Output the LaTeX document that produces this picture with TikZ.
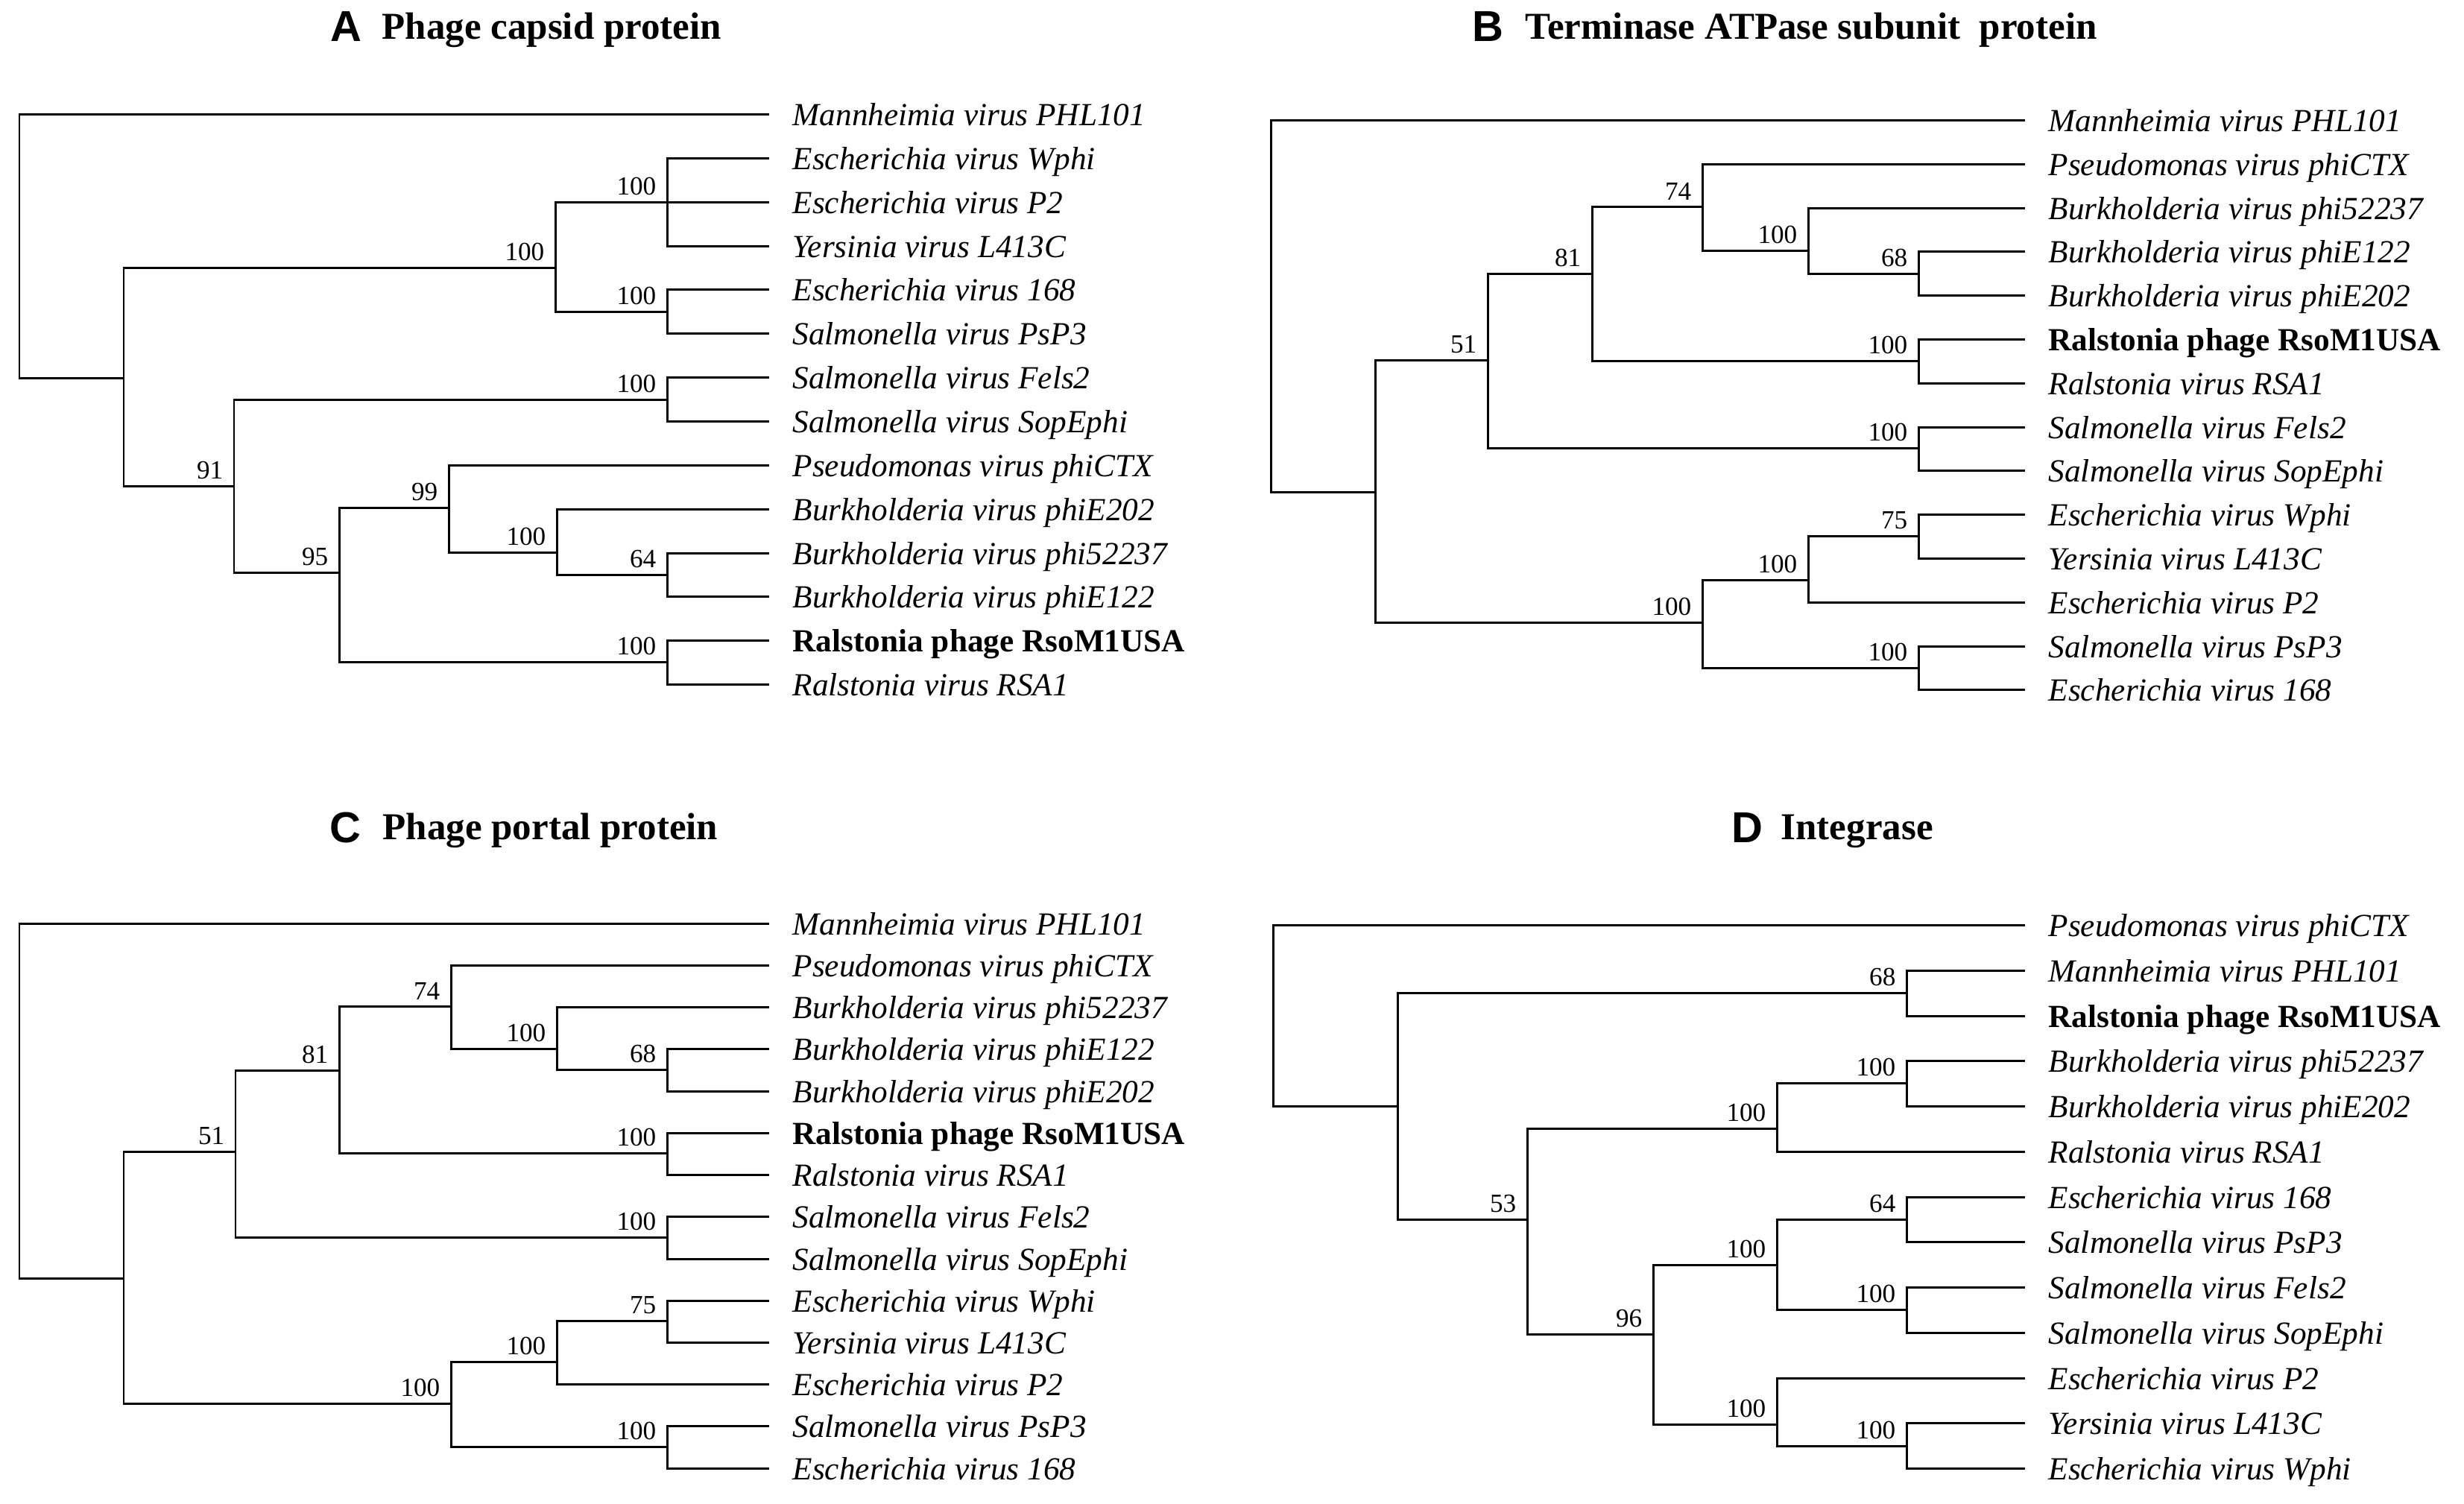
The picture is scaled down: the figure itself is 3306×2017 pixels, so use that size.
\documentclass[tikz,border=0pt]{standalone}
\usepackage{fontspec}
\setmainfont{Liberation Serif}
\newfontfamily\panelfont{Liberation Sans}
\usetikzlibrary{calc}
\begin{document}
\begin{tikzpicture}[x=0.01cm,y=-0.01cm,
 br/.style={line width=0.85pt},
 leaf/.style={anchor=base west, inner sep=0pt, font=\fontsize{12.3}{14}\selectfont\itshape},
 leafb/.style={anchor=base west, inner sep=0pt, font=\fontsize{12.3}{14}\selectfont\bfseries},
 boot/.style={anchor=south east, inner sep=0pt, font=\fontsize{10}{12}\selectfont},
 plet/.style={anchor=base west, inner sep=0pt, font=\panelfont\bfseries\fontsize{16.5}{18}\selectfont},
 ptitle/.style={anchor=base west, inner sep=0pt, font=\fontsize{14.5}{16}\selectfont\bfseries}]
\useasboundingbox (0,0) rectangle (3306,2017);
\fill[white] (0,0) rectangle (3306,2017);

% ================= Panel A =================
\node[plet] (A-let) at (443,55) {A};
\node[ptitle] (A-tit) at (512,52) {Phage capsid protein};
\coordinate (A-L0) at (1032,153);  \node[leaf] (A-T0) at (1063,168) {Mannheimia virus PHL101};
\coordinate (A-L1) at (1032,212);  \node[leaf] (A-T1) at (1063,227) {Escherichia virus Wphi};
\coordinate (A-L2) at (1032,271);  \node[leaf] (A-T2) at (1063,286) {Escherichia virus P2};
\coordinate (A-L3) at (1032,330);  \node[leaf] (A-T3) at (1063,345) {Yersinia virus L413C};
\coordinate (A-L4) at (1032,388);  \node[leaf] (A-T4) at (1063,403) {Escherichia virus 168};
\coordinate (A-L5) at (1032,447);  \node[leaf] (A-T5) at (1063,462) {Salmonella virus PsP3};
\coordinate (A-L6) at (1032,506);  \node[leaf] (A-T6) at (1063,521) {Salmonella virus Fels2};
\coordinate (A-L7) at (1032,565);  \node[leaf] (A-T7) at (1063,580) {Salmonella virus SopEphi};
\coordinate (A-L8) at (1032,624);  \node[leaf] (A-T8) at (1063,639) {Pseudomonas virus phiCTX};
\coordinate (A-L9) at (1032,683);  \node[leaf] (A-T9) at (1063,698) {Burkholderia virus phiE202};
\coordinate (A-L10) at (1032,742); \node[leaf] (A-T10) at (1063,757) {Burkholderia virus phi52237};
\coordinate (A-L11) at (1032,800); \node[leaf] (A-T11) at (1063,815) {Burkholderia virus phiE122};
\coordinate (A-L12) at (1032,859); \node[leafb] (A-T12) at (1063,874) {Ralstonia phage RsoM1USA};
\coordinate (A-L13) at (1032,918); \node[leaf] (A-T13) at (1063,933) {Ralstonia virus RSA1};

\coordinate (A-root) at (26,330);
\coordinate (A-a1) at (166,507);
\coordinate (A-a2) at (745,359);
\coordinate (A-a3) at (895,271);
\coordinate (A-a4) at (895,418);
\coordinate (A-a5) at (314,652);
\coordinate (A-a6) at (895,536);
\coordinate (A-a7) at (455,768);
\coordinate (A-a8) at (602,681);
\coordinate (A-a9) at (747,741);
\coordinate (A-a10) at (895,771);
\coordinate (A-a11) at (895,888);

\draw[br] (A-root) |- (A-L0);  \draw[br] (A-root) |- (A-a1);
\draw[br] (A-a1) |- (A-a2);    \draw[br] (A-a1) |- (A-a5);
\draw[br] (A-a2) |- (A-a3);    \draw[br] (A-a2) |- (A-a4);
\draw[br] (A-a3) |- (A-L1);    \draw[br] (A-a3) |- (A-L2);  \draw[br] (A-a3) |- (A-L3);
\draw[br] (A-a4) |- (A-L4);    \draw[br] (A-a4) |- (A-L5);
\draw[br] (A-a5) |- (A-a6);    \draw[br] (A-a5) |- (A-a7);
\draw[br] (A-a6) |- (A-L6);    \draw[br] (A-a6) |- (A-L7);
\draw[br] (A-a7) |- (A-a8);    \draw[br] (A-a7) |- (A-a11);
\draw[br] (A-a8) |- (A-L8);    \draw[br] (A-a8) |- (A-a9);
\draw[br] (A-a9) |- (A-L9);    \draw[br] (A-a9) |- (A-a10);
\draw[br] (A-a10) |- (A-L10);  \draw[br] (A-a10) |- (A-L11);
\draw[br] (A-a11) |- (A-L12);  \draw[br] (A-a11) |- (A-L13);

\node[boot] (A-b2) at ($(A-a2)+(-14,-8)$) {100};
\node[boot] (A-b3) at ($(A-a3)+(-14,-8)$) {100};
\node[boot] (A-b4) at ($(A-a4)+(-14,-8)$) {100};
\node[boot] (A-b5) at ($(A-a5)+(-14,-8)$) {91};
\node[boot] (A-b6) at ($(A-a6)+(-14,-8)$) {100};
\node[boot] (A-b7) at ($(A-a7)+(-14,-8)$) {95};
\node[boot] (A-b8) at ($(A-a8)+(-14,-8)$) {99};
\node[boot] (A-b9) at ($(A-a9)+(-14,-8)$) {100};
\node[boot] (A-b10) at ($(A-a10)+(-14,-8)$) {64};
\node[boot] (A-b11) at ($(A-a11)+(-14,-8)$) {100};

% ================= Panel B =================
\node[plet] (B-let) at (1975,55) {B};
\node[ptitle] (B-tit) at (2046,52) {Terminase ATPase subunit\ \ protein};
\coordinate (B-L0) at (2717,161);  \node[leaf] (B-T0) at (2748,176) {Mannheimia virus PHL101};
\coordinate (B-L1) at (2717,220);  \node[leaf] (B-T1) at (2748,235) {Pseudomonas virus phiCTX};
\coordinate (B-L2) at (2717,279);  \node[leaf] (B-T2) at (2748,294) {Burkholderia virus phi52237};
\coordinate (B-L3) at (2717,337);  \node[leaf] (B-T3) at (2748,352) {Burkholderia virus phiE122};
\coordinate (B-L4) at (2717,396);  \node[leaf] (B-T4) at (2748,411) {Burkholderia virus phiE202};
\coordinate (B-L5) at (2717,455);  \node[leafb] (B-T5) at (2748,470) {Ralstonia phage RsoM1USA};
\coordinate (B-L6) at (2717,514);  \node[leaf] (B-T6) at (2748,529) {Ralstonia virus RSA1};
\coordinate (B-L7) at (2717,573);  \node[leaf] (B-T7) at (2748,588) {Salmonella virus Fels2};
\coordinate (B-L8) at (2717,631);  \node[leaf] (B-T8) at (2748,646) {Salmonella virus SopEphi};
\coordinate (B-L9) at (2717,690);  \node[leaf] (B-T9) at (2748,705) {Escherichia virus Wphi};
\coordinate (B-L10) at (2717,749); \node[leaf] (B-T10) at (2748,764) {Yersinia virus L413C};
\coordinate (B-L11) at (2717,808); \node[leaf] (B-T11) at (2748,823) {Escherichia virus P2};
\coordinate (B-L12) at (2717,867); \node[leaf] (B-T12) at (2748,882) {Salmonella virus PsP3};
\coordinate (B-L13) at (2717,925); \node[leaf] (B-T13) at (2748,940) {Escherichia virus 168};

\coordinate (B-root) at (1705,400);
\coordinate (B-b1) at (1845,660);
\coordinate (B-b2) at (1996,483);
\coordinate (B-b3) at (2136,367);
\coordinate (B-b4) at (2284,277);
\coordinate (B-b5) at (2426,336);
\coordinate (B-b6) at (2574,367);
\coordinate (B-bR) at (2574,484);
\coordinate (B-bF) at (2574,601);
\coordinate (B-b7) at (2284,835);
\coordinate (B-b8) at (2426,778);
\coordinate (B-b9) at (2574,719);
\coordinate (B-b10) at (2574,896);

\draw[br] (B-root) |- (B-L0);  \draw[br] (B-root) |- (B-b1);
\draw[br] (B-b1) |- (B-b2);    \draw[br] (B-b1) |- (B-b7);
\draw[br] (B-b2) |- (B-b3);    \draw[br] (B-b2) |- (B-bF);
\draw[br] (B-b3) |- (B-b4);    \draw[br] (B-b3) |- (B-bR);
\draw[br] (B-b4) |- (B-L1);    \draw[br] (B-b4) |- (B-b5);
\draw[br] (B-b5) |- (B-L2);    \draw[br] (B-b5) |- (B-b6);
\draw[br] (B-b6) |- (B-L3);    \draw[br] (B-b6) |- (B-L4);
\draw[br] (B-bR) |- (B-L5);    \draw[br] (B-bR) |- (B-L6);
\draw[br] (B-bF) |- (B-L7);    \draw[br] (B-bF) |- (B-L8);
\draw[br] (B-b7) |- (B-b8);    \draw[br] (B-b7) |- (B-b10);
\draw[br] (B-b8) |- (B-b9);    \draw[br] (B-b8) |- (B-L11);
\draw[br] (B-b9) |- (B-L9);    \draw[br] (B-b9) |- (B-L10);
\draw[br] (B-b10) |- (B-L12);  \draw[br] (B-b10) |- (B-L13);

\node[boot] (B-x2) at ($(B-b2)+(-14,-8)$) {51};
\node[boot] (B-x3) at ($(B-b3)+(-14,-8)$) {81};
\node[boot] (B-x4) at ($(B-b4)+(-14,-8)$) {74};
\node[boot] (B-x5) at ($(B-b5)+(-14,-8)$) {100};
\node[boot] (B-x6) at ($(B-b6)+(-14,-8)$) {68};
\node[boot] (B-xR) at ($(B-bR)+(-14,-8)$) {100};
\node[boot] (B-xF) at ($(B-bF)+(-14,-8)$) {100};
\node[boot] (B-x7) at ($(B-b7)+(-14,-8)$) {100};
\node[boot] (B-x8) at ($(B-b8)+(-14,-8)$) {100};
\node[boot] (B-x9) at ($(B-b9)+(-14,-8)$) {75};
\node[boot] (B-x10) at ($(B-b10)+(-14,-8)$) {100};

% ================= Panel C =================
\node[plet] (C-let) at (442,1130) {C};
\node[ptitle] (C-tit) at (513,1126) {Phage portal protein};
\coordinate (C-L0) at (1032,1239);  \node[leaf] (C-T0) at (1063,1254) {Mannheimia virus PHL101};
\coordinate (C-L1) at (1032,1295);  \node[leaf] (C-T1) at (1063,1310) {Pseudomonas virus phiCTX};
\coordinate (C-L2) at (1032,1351);  \node[leaf] (C-T2) at (1063,1366) {Burkholderia virus phi52237};
\coordinate (C-L3) at (1032,1407);  \node[leaf] (C-T3) at (1063,1422) {Burkholderia virus phiE122};
\coordinate (C-L4) at (1032,1464);  \node[leaf] (C-T4) at (1063,1479) {Burkholderia virus phiE202};
\coordinate (C-L5) at (1032,1520);  \node[leafb] (C-T5) at (1063,1535) {Ralstonia phage RsoM1USA};
\coordinate (C-L6) at (1032,1576);  \node[leaf] (C-T6) at (1063,1591) {Ralstonia virus RSA1};
\coordinate (C-L7) at (1032,1632);  \node[leaf] (C-T7) at (1063,1647) {Salmonella virus Fels2};
\coordinate (C-L8) at (1032,1689);  \node[leaf] (C-T8) at (1063,1704) {Salmonella virus SopEphi};
\coordinate (C-L9) at (1032,1745);  \node[leaf] (C-T9) at (1063,1760) {Escherichia virus Wphi};
\coordinate (C-L10) at (1032,1801); \node[leaf] (C-T10) at (1063,1816) {Yersinia virus L413C};
\coordinate (C-L11) at (1032,1857); \node[leaf] (C-T11) at (1063,1872) {Escherichia virus P2};
\coordinate (C-L12) at (1032,1913); \node[leaf] (C-T12) at (1063,1928) {Salmonella virus PsP3};
\coordinate (C-L13) at (1032,1970); \node[leaf] (C-T13) at (1063,1985) {Escherichia virus 168};

\coordinate (C-root) at (26,1450);
\coordinate (C-c1) at (166,1715);
\coordinate (C-c2) at (316,1545);
\coordinate (C-c3) at (455,1436);
\coordinate (C-c4) at (605,1350);
\coordinate (C-c5) at (747,1407);
\coordinate (C-c6) at (895,1435);
\coordinate (C-cR) at (895,1547);
\coordinate (C-cF) at (895,1660);
\coordinate (C-c7) at (605,1883);
\coordinate (C-c8) at (747,1827);
\coordinate (C-c9) at (895,1772);
\coordinate (C-c10) at (895,1941);

\draw[br] (C-root) |- (C-L0);  \draw[br] (C-root) |- (C-c1);
\draw[br] (C-c1) |- (C-c2);    \draw[br] (C-c1) |- (C-c7);
\draw[br] (C-c2) |- (C-c3);    \draw[br] (C-c2) |- (C-cF);
\draw[br] (C-c3) |- (C-c4);    \draw[br] (C-c3) |- (C-cR);
\draw[br] (C-c4) |- (C-L1);    \draw[br] (C-c4) |- (C-c5);
\draw[br] (C-c5) |- (C-L2);    \draw[br] (C-c5) |- (C-c6);
\draw[br] (C-c6) |- (C-L3);    \draw[br] (C-c6) |- (C-L4);
\draw[br] (C-cR) |- (C-L5);    \draw[br] (C-cR) |- (C-L6);
\draw[br] (C-cF) |- (C-L7);    \draw[br] (C-cF) |- (C-L8);
\draw[br] (C-c7) |- (C-c8);    \draw[br] (C-c7) |- (C-c10);
\draw[br] (C-c8) |- (C-c9);    \draw[br] (C-c8) |- (C-L11);
\draw[br] (C-c9) |- (C-L9);    \draw[br] (C-c9) |- (C-L10);
\draw[br] (C-c10) |- (C-L12);  \draw[br] (C-c10) |- (C-L13);

\node[boot] (C-x2) at ($(C-c2)+(-14,-8)$) {51};
\node[boot] (C-x3) at ($(C-c3)+(-14,-8)$) {81};
\node[boot] (C-x4) at ($(C-c4)+(-14,-8)$) {74};
\node[boot] (C-x5) at ($(C-c5)+(-14,-8)$) {100};
\node[boot] (C-x6) at ($(C-c6)+(-14,-8)$) {68};
\node[boot] (C-xR) at ($(C-cR)+(-14,-8)$) {100};
\node[boot] (C-xF) at ($(C-cF)+(-14,-8)$) {100};
\node[boot] (C-x7) at ($(C-c7)+(-14,-8)$) {100};
\node[boot] (C-x8) at ($(C-c8)+(-14,-8)$) {100};
\node[boot] (C-x9) at ($(C-c9)+(-14,-8)$) {75};
\node[boot] (C-x10) at ($(C-c10)+(-14,-8)$) {100};

% ================= Panel D =================
\node[plet] (D-let) at (2323,1130) {D};
\node[ptitle] (D-tit) at (2389,1126) {Integrase};
\coordinate (D-L0) at (2717,1241);  \node[leaf] (D-T0) at (2748,1256) {Pseudomonas virus phiCTX};
\coordinate (D-L1) at (2717,1302);  \node[leaf] (D-T1) at (2748,1317) {Mannheimia virus PHL101};
\coordinate (D-L2) at (2717,1363);  \node[leafb] (D-T2) at (2748,1378) {Ralstonia phage RsoM1USA};
\coordinate (D-L3) at (2717,1423);  \node[leaf] (D-T3) at (2748,1438) {Burkholderia virus phi52237};
\coordinate (D-L4) at (2717,1484);  \node[leaf] (D-T4) at (2748,1499) {Burkholderia virus phiE202};
\coordinate (D-L5) at (2717,1545);  \node[leaf] (D-T5) at (2748,1560) {Ralstonia virus RSA1};
\coordinate (D-L6) at (2717,1606);  \node[leaf] (D-T6) at (2748,1621) {Escherichia virus 168};
\coordinate (D-L7) at (2717,1666);  \node[leaf] (D-T7) at (2748,1681) {Salmonella virus PsP3};
\coordinate (D-L8) at (2717,1727);  \node[leaf] (D-T8) at (2748,1742) {Salmonella virus Fels2};
\coordinate (D-L9) at (2717,1788);  \node[leaf] (D-T9) at (2748,1803) {Salmonella virus SopEphi};
\coordinate (D-L10) at (2717,1849); \node[leaf] (D-T10) at (2748,1864) {Escherichia virus P2};
\coordinate (D-L11) at (2717,1909); \node[leaf] (D-T11) at (2748,1924) {Yersinia virus L413C};
\coordinate (D-L12) at (2717,1970); \node[leaf] (D-T12) at (2748,1985) {Escherichia virus Wphi};

\coordinate (D-root) at (1708,1300);
\coordinate (D-d1) at (1875,1484);
\coordinate (D-d2) at (2558,1332);
\coordinate (D-d3) at (2049,1636);
\coordinate (D-d4) at (2384,1514);
\coordinate (D-d5) at (2558,1453);
\coordinate (D-d6) at (2218,1790);
\coordinate (D-d7) at (2384,1697);
\coordinate (D-d8) at (2558,1636);
\coordinate (D-d9) at (2558,1757);
\coordinate (D-d10) at (2384,1911);
\coordinate (D-d11) at (2558,1940);

\draw[br] (D-root) |- (D-L0);  \draw[br] (D-root) |- (D-d1);
\draw[br] (D-d1) |- (D-d2);    \draw[br] (D-d1) |- (D-d3);
\draw[br] (D-d2) |- (D-L1);    \draw[br] (D-d2) |- (D-L2);
\draw[br] (D-d3) |- (D-d4);    \draw[br] (D-d3) |- (D-d6);
\draw[br] (D-d4) |- (D-d5);    \draw[br] (D-d4) |- (D-L5);
\draw[br] (D-d5) |- (D-L3);    \draw[br] (D-d5) |- (D-L4);
\draw[br] (D-d6) |- (D-d7);    \draw[br] (D-d6) |- (D-d10);
\draw[br] (D-d7) |- (D-d8);    \draw[br] (D-d7) |- (D-d9);
\draw[br] (D-d8) |- (D-L6);    \draw[br] (D-d8) |- (D-L7);
\draw[br] (D-d9) |- (D-L8);    \draw[br] (D-d9) |- (D-L9);
\draw[br] (D-d10) |- (D-L10);  \draw[br] (D-d10) |- (D-d11);
\draw[br] (D-d11) |- (D-L11);  \draw[br] (D-d11) |- (D-L12);

\node[boot] (D-x2) at ($(D-d2)+(-14,-8)$) {68};
\node[boot] (D-x3) at ($(D-d3)+(-14,-8)$) {53};
\node[boot] (D-x4) at ($(D-d4)+(-14,-8)$) {100};
\node[boot] (D-x5) at ($(D-d5)+(-14,-8)$) {100};
\node[boot] (D-x6) at ($(D-d6)+(-14,-8)$) {96};
\node[boot] (D-x7) at ($(D-d7)+(-14,-8)$) {100};
\node[boot] (D-x8) at ($(D-d8)+(-14,-8)$) {64};
\node[boot] (D-x9) at ($(D-d9)+(-14,-8)$) {100};
\node[boot] (D-x10) at ($(D-d10)+(-14,-8)$) {100};
\node[boot] (D-x11) at ($(D-d11)+(-14,-8)$) {100};
\end{tikzpicture}
\end{document}
